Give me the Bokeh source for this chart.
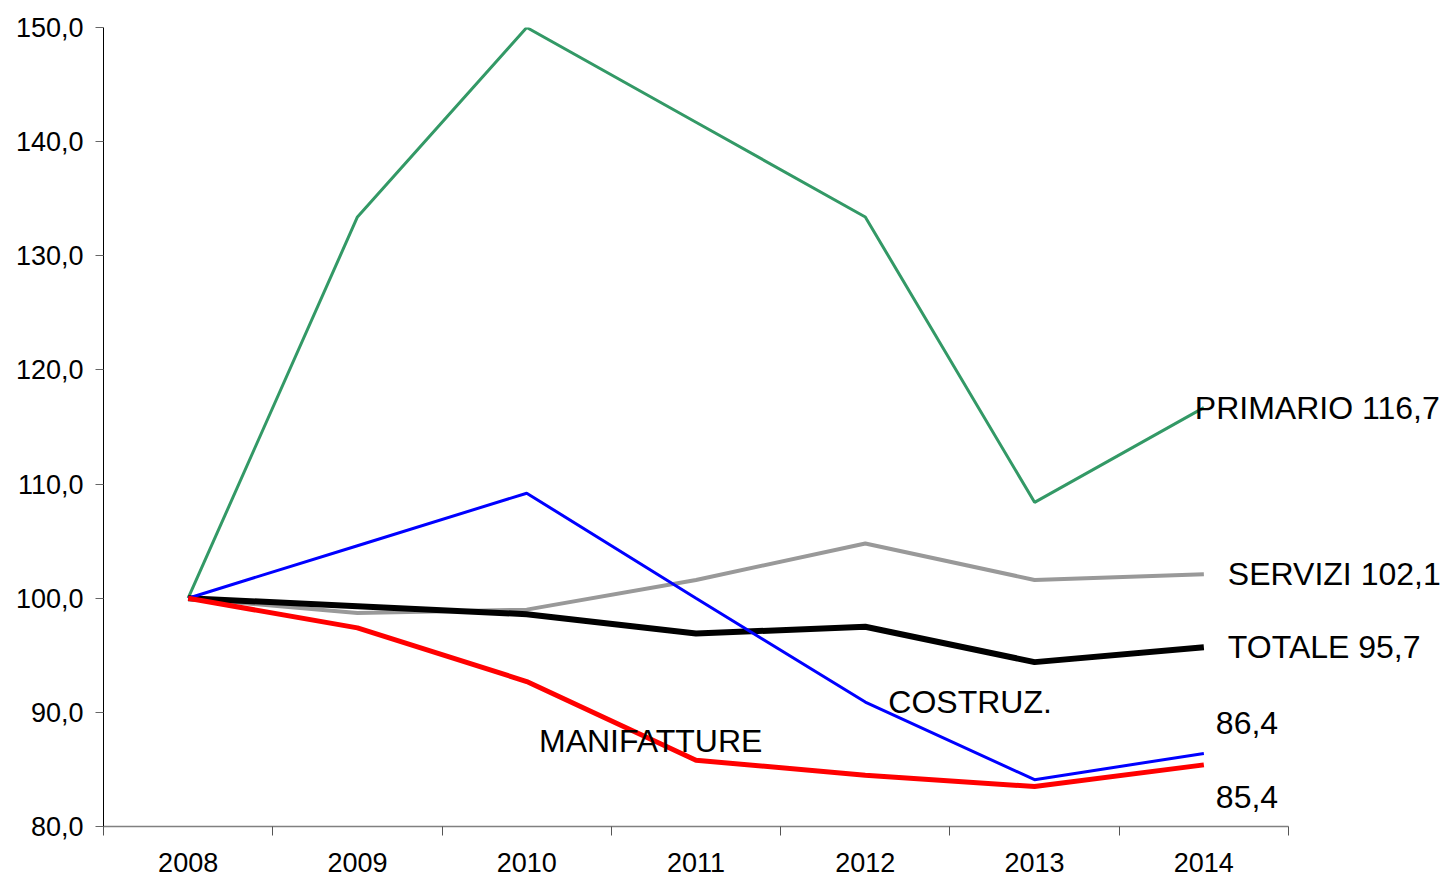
from bokeh.plotting import figure
from bokeh.models import Range1d, FixedTicker, Label
from bokeh.embed import file_html
from bokeh.resources import INLINE

years = ["2008", "2009", "2010", "2011", "2012", "2013", "2014"]
y_ticks = [80, 90, 100, 110, 120, 130, 140, 150]
y_tick_labels = ["80,0", "90,0", "100,0", "110,0", "120,0", "130,0", "140,0", "150,0"]

primario = [100.0, 133.4, 150.0, 141.7, 133.4, 108.4, 116.7]
servizi = [100.0, 98.7, 99.0, 101.6, 104.8, 101.6, 102.1]
totale = [100.0, 99.3, 98.6, 96.9, 97.5, 94.4, 95.7]
costruz = [100.0, 104.6, 109.2, 100.0, 90.9, 84.1, 86.4]
manifatture = [100.0, 97.4, 92.7, 85.8, 84.5, 83.5, 85.4]

FONT = "Liberation Sans"
xs = list(range(len(years)))
n = len(years)

PLOT_W = 1185          # width of the axis area in px
EXTRA_W = 164          # room on the right for the end labels
unit = PLOT_W / n
x_end = n - 0.5 + EXTRA_W / unit

p = figure(frame_width=PLOT_W + EXTRA_W, frame_height=799, output_backend="svg",
           toolbar_location=None, x_range=Range1d(-0.5, x_end),
           y_range=Range1d(80, 150), min_border_left=103, min_border_top=27,
           min_border_right=0, min_border_bottom=53)
p.outline_line_color = None
p.xgrid.visible = False
p.ygrid.visible = False
p.background_fill_color = "white"
p.border_fill_color = "white"

# x axis: labels at category centres, tick marks at category boundaries
xa = p.xaxis[0]
xa.bounds = (-0.5, n - 0.5)
xa.ticker = FixedTicker(ticks=xs, minor_ticks=[i - 0.5 for i in range(n + 1)])
xa.major_label_overrides = {i: y for i, y in enumerate(years)}
xa.major_tick_out = 0
xa.major_tick_in = 0
xa.minor_tick_out = 9
xa.minor_tick_in = 0
xa.minor_tick_line_color = "#555555"
xa.axis_line_color = "#808080"
xa.axis_line_width = 1.5
xa.major_label_standoff = 17
xa.major_label_text_font = FONT
xa.major_label_text_font_size = "27px"
xa.major_label_text_color = "black"

ya = p.yaxis[0]
ya.ticker = FixedTicker(ticks=y_ticks, minor_ticks=[])
ya.major_label_overrides = {t: l for t, l in zip(y_ticks, y_tick_labels)}
ya.major_tick_out = 8
ya.major_tick_in = 0
ya.major_tick_line_color = "#666666"
ya.minor_tick_line_color = None
ya.axis_line_color = "black"
ya.major_label_standoff = 12
ya.major_label_text_font = FONT
ya.major_label_text_font_size = "27px"
ya.major_label_text_color = "black"

p.line(xs, primario, line_color="#339966", line_width=3)
p.line(xs, servizi, line_color="#999999", line_width=4)
p.line(xs, totale, line_color="black", line_width=6)
p.line(xs, costruz, line_color="#0000FF", line_width=3)
p.line(xs, manifatture, line_color="#FF0000", line_width=5)

def lab(x, y, text, dx, dy=0):
    p.add_layout(Label(x=x, y=y, text=text, x_offset=dx, y_offset=dy,
                       text_font=FONT, text_font_size="32px", text_color="black",
                       text_align="left", text_baseline="middle"))

def fmt(v):
    return f"{v:.1f}".replace(".", ",")

last = n - 1
lab(last, primario[last], "PRIMARIO " + fmt(primario[last]), -9)
lab(last, servizi[last], "SERVIZI " + fmt(servizi[last]), 24)
lab(last, totale[last], "TOTALE " + fmt(totale[last]), 24)
lab(last, costruz[last], fmt(costruz[last]), 12, 30)
lab(last, manifatture[last], fmt(manifatture[last]), 12, -32)
lab(4, costruz[4], "COSTRUZ.", 23, 0)
lab(3, manifatture[3], "MANIFATTURE", -157, 19)

open("out.html", "w").write(file_html(p, INLINE))
